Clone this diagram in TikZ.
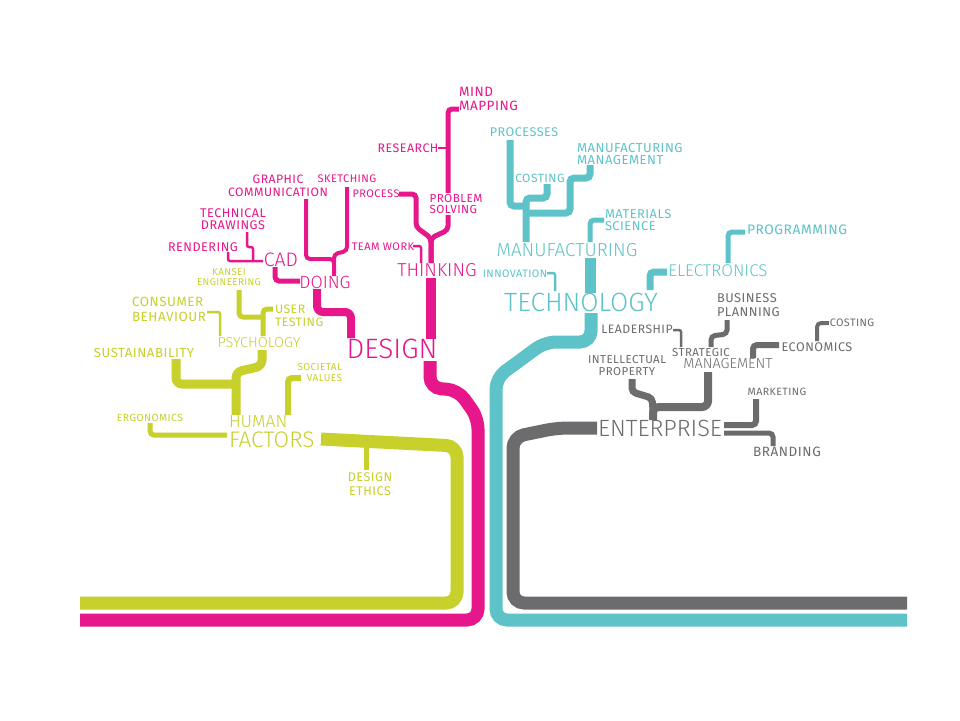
\documentclass[tikz,border=0pt]{standalone}
\usepackage{fontspec}
\setmainfont{Fira Sans}
\newfontfamily\smf{Fira Sans}[LetterSpace=4]
\newfontfamily\lightf{Fira Sans Light}
\newcommand\labfont[2]{\smf\fontsize{#1}{#2}\selectfont}
\definecolor{mag}{HTML}{E5178B}
\definecolor{lime}{HTML}{C8D02C}
\definecolor{cyn}{HTML}{5EC3C8}
\definecolor{gry}{HTML}{6C6C6E}
\begin{document}
\begin{tikzpicture}[x=1pt,y=-1pt,
  lab/.style={inner sep=0pt, outer sep=0pt},
  lt/.style={lab, font=\lightf\fontsize{#1}{#1}\selectfont},
  trunk/.style={line width=13pt, rounded corners=11pt},
  br/.style={line width=8pt, rounded corners=6pt},
  tw/.style={line width=5pt, rounded corners=4pt},
  hair/.style={line width=2.5pt, rounded corners=2pt}]
\useasboundingbox (0,0) rectangle (960,720);
\fill[white] (0,0) rectangle (960,720);

% ---------------- connectors ----------------
\coordinate (magend) at (80,620);
\coordinate (limend) at (80,603);
\coordinate (cynend) at (907,620);
\coordinate (gryend) at (907,603);

% magenta
\draw[trunk,mag] (magend) -- (478,620) -- (478,418) -- (458,390) -- (430,388) -- (430,361);
\draw[mag,line width=10pt] (431,278) -- (431,339);
\draw[tw,mag] (431,263) -- (431,238) -- (416,227) -- (416,194) -- (399,194);
\draw[tw,mag] (431,263) -- (431,238) -- (448,230) -- (448,109) -- (459,109);
\draw[hair,mag] (438,148) -- (448,148);
\draw[hair,mag] (413,246) -- (421,246) -- (421,263);
\draw[br,mag] (317,289) -- (317,312) -- (351,312) -- (351,338);
\draw[tw,mag,line width=4pt] (306,199) -- (306,259) -- (334,259) -- (334,276);
\draw[tw,mag,line width=4pt] (347,187) -- (347,251) -- (334,254) -- (334,262);
\draw[tw,mag] (275,267) -- (275,281) -- (300,281);
\draw[hair,mag] (228,252) -- (228,261) -- (263,261);
\draw[hair,mag] (247,232) -- (247,247) -- (253,247) -- (253,261);

% lime
\draw[trunk,lime] (limend) -- (457,603) -- (457,446) -- (321,439);
\draw[tw,lime] (366,444) -- (366,470);
\draw[tw,lime] (150,423) -- (150,435) -- (227,435);
\draw[tw,lime,line width=6pt] (288,415) -- (288,378) -- (301,378);
\draw[br,lime,line width=9pt] (262,350) -- (262,366) -- (236,372) -- (236,415);
\draw[br,lime,line width=9pt] (176,359) -- (176,384) -- (236,384);
\draw[tw,lime] (239,290) -- (239,317) -- (262,317);
\draw[tw,lime] (273,309) -- (263,309) -- (263,336);
\draw[hair,lime] (207,312) -- (220,312) -- (220,336);

% cyan
\draw[trunk,cyn] (591,313) -- (591,342) -- (545,342) -- (496,378) -- (496,620) -- (cynend);
\draw[cyn,line width=11pt] (590,258) -- (590,293);
\draw[tw,cyn] (604,220) -- (590,220) -- (590,242);
\draw[tw,cyn,line width=7pt] (510,140) -- (510,206) -- (526,206);
\draw[tw,cyn,line width=7pt] (547,184) -- (547,198) -- (526,198) -- (526,242);
\draw[tw,cyn,line width=7pt] (590,165) -- (590,178) -- (570,178) -- (570,213) -- (526,213);
\draw[hair,cyn] (547,273) -- (555,273) -- (555,291);
\draw[tw,cyn,line width=7pt] (667,272) -- (650,272) -- (650,290);
\draw[tw,cyn] (745,232) -- (728,232) -- (728,263);

% gray
\draw[trunk,gry] (597,428) -- (557,428) -- (513,437) -- (513,603) -- (gryend);
\draw[br,gry] (708,372) -- (708,407) -- (653,407) -- (653,420);
\draw[tw,gry,line width=7pt] (632,379) -- (632,392) -- (652,398) -- (653,410);
\draw[hair,gry] (673,330) -- (681,330) -- (681,347);
\draw[tw,gry] (727,320) -- (727,334) -- (711,336) -- (711,347);
\draw[tw,gry,line width=6pt] (779,345) -- (753,345) -- (753,358);
\draw[tw,gry,line width=4pt] (829,323) -- (817,323) -- (817,341);
\draw[tw,gry,line width=6pt] (724,425) -- (756,425) -- (756,399);
\draw[tw,gry,line width=5pt] (724,433) -- (773,433) -- (773,446);

% ---------------- labels ----------------
% magenta
\node[lab,mag,anchor=west,align=left,font=\labfont{13.5}{14}] (mind) at (459,99) {MIND\\MAPPING};
\node[lab,mag,font=\labfont{12.4}{13}] (research) at (408,148) {RESEARCH};
\node[lab,mag,anchor=west,align=left,fill=white,inner sep=1.5pt,font=\labfont{11.7}{10.5}] (problem) at (428,204) {PROBLEM\\SOLVING};
\node[lab,mag,font=\labfont{11}{12}] (process) at (376,194) {PROCESS};
\node[lab,mag,font=\labfont{11}{12}] (sketching) at (347,179) {SKETCHING};
\node[lab,mag,align=center,font=\labfont{12.2}{13}] (graphic) at (278,186) {GRAPHIC\\COMMUNICATION};
\node[lab,mag,align=center,font=\labfont{12.6}{12.5}] (technical) at (233,219) {TECHNICAL\\DRAWINGS};
\node[lab,mag,font=\labfont{12.6}{13}] (rendering) at (203,247) {RENDERING};
\node[lt=19.5,mag] (cad) at (281,260) {CAD};
\node[lt=17.7,mag] (doing) at (325,282) {DOING};
\node[lab,mag,font=\labfont{11}{12}] (teamwork) at (383,247) {TEAM WORK};
\node[lt=18.7,mag] (thinking) at (437,270) {THINKING};
\node[lt=28,mag] (design) at (392,349) {DESIGN};

% lime
\node[lab,lime,align=center,font=\labfont{9.8}{10}] (kansei) at (229,277) {KANSEI\\ENGINEERING};
\node[lab,lime,anchor=west,align=left,font=\labfont{12.3}{13}] (user) at (275,316) {USER\\TESTING};
\node[lab,lime,anchor=west,align=left,font=\labfont{13.4}{15}] (consumer) at (132,309) {CONSUMER\\BEHAVIOUR};
\node[lt=14.5,lime] (psychology) at (259,343) {PSYCHOLOGY};
\node[lab,lime,font=\labfont{13.2}{14}] (sustain) at (144,353) {SUSTAINABILITY};
\node[lab,lime,anchor=east,align=right,font=\labfont{10}{11}] (societal) at (342,373) {SOCIETAL\\VALUES};
\node[lt=17.5,lime,anchor=west] (human) at (229,422) {HUMAN};
\node[lt=22.5,lime,anchor=west] (factors) at (229,440) {FACTORS};
\node[lab,lime,font=\labfont{10.4}{11}] (ergonomics) at (150,418) {ERGONOMICS};
\node[lab,lime,align=center,font=\labfont{12.6}{14}] (ethics) at (370,484) {DESIGN\\ETHICS};

% cyan
\node[lab,cyn,font=\labfont{12.6}{13}] (processes) at (524,132) {PROCESSES};
\node[lab,cyn,anchor=west,align=left,font=\labfont{13}{12.5}] (mfgmgmt) at (577,154) {MANUFACTURING\\MANAGEMENT};
\node[lab,cyn,font=\labfont{12}{13}] (costing) at (540,178) {COSTING};
\node[lab,cyn,anchor=west,align=left,font=\labfont{12.8}{12.5}] (materials) at (605,220) {MATERIALS\\SCIENCE};
\node[lab,cyn,font=\labfont{13.8}{14}] (programming) at (797,230) {PROGRAMMING};
\node[lt=18.8,cyn] (manufacturing) at (567,250) {MANUFACTURING};
\node[lt=17,cyn] (electronics) at (718,271) {ELECTRONICS};
\node[lab,cyn,font=\labfont{10.8}{11}] (innovation) at (515,274) {INNOVATION};
\node[lt=26.4,cyn] (technology) at (581,302) {TECHNOLOGY};

% gray
\node[lab,gry,anchor=west,align=left,font=\labfont{12.8}{13.5}] (business) at (717,305) {BUSINESS\\PLANNING};
\node[lab,gry,font=\labfont{12.2}{13}] (leadership) at (637,329) {LEADERSHIP};
\node[lab,gry,font=\labfont{10.8}{11}] (costing2) at (852,323) {COSTING};
\node[lab,gry,font=\labfont{12.6}{13}] (economics) at (817,347) {ECONOMICS};
\node[lab,gry,font=\labfont{11.5}{12}] (strategic) at (701,353) {STRATEGIC};
\node[lt=14.5,gry] (management) at (728,364) {MANAGEMENT};
\node[lab,gry,align=center,font=\labfont{11.5}{12}] (intellectual) at (627,366) {INTELLECTUAL\\PROPERTY};
\node[lab,gry,font=\labfont{10.6}{11}] (marketing) at (777,392) {MARKETING};
\node[lt=23.5,gry] (enterprise) at (660,428) {ENTERPRISE};
\node[lab,gry,font=\labfont{13.5}{14}] (branding) at (787,452) {BRANDING};
\end{tikzpicture}
\end{document}
